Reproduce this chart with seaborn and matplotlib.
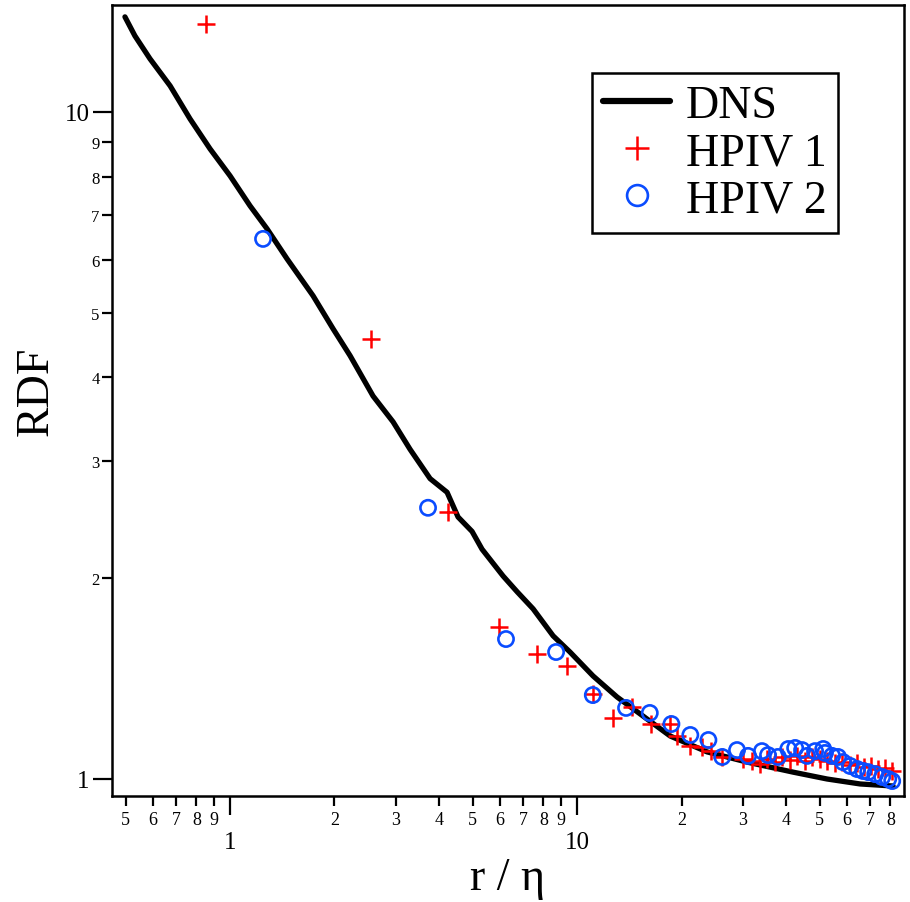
import numpy as np
import pandas as pd
import matplotlib
matplotlib.use("Agg")
import matplotlib.pyplot as plt
from matplotlib.ticker import LogLocator, FuncFormatter
from matplotlib.lines import Line2D
import seaborn as sns

# ---------------- data ----------------
dns_r = [0.498, 0.532, 0.588, 0.672, 0.767, 0.876, 1.0, 1.142, 1.278, 1.46, 1.735,
         1.981, 2.218, 2.583, 2.95, 3.302, 3.771, 4.221, 4.54, 4.982, 5.324, 6.12,
         6.72, 7.47, 8.53, 9.54, 11.12, 13.04, 15.19, 18.54, 23.7, 30.9, 41.9,
         52.5, 65.4, 81.4]
dns_g = [13.88, 13.0, 12.01, 10.94, 9.76, 8.8, 8.02, 7.23, 6.68, 6.02, 5.3,
         4.73, 4.31, 3.75, 3.43, 3.12, 2.82, 2.69, 2.47, 2.35, 2.21, 2.015,
         1.908, 1.799, 1.639, 1.55, 1.427, 1.327, 1.252, 1.16, 1.098, 1.06, 1.024,
         1.0, 0.983, 0.976]

hpiv1_r = [0.853, 2.55, 4.25, 5.96, 7.67, 9.36, 11.1, 12.7, 14.4, 16.3, 18.5, 19.4,
           21.2, 22.9, 24.3, 26.2, 30.1, 31.95, 33.7, 35.3, 37.2, 39.0, 41.1, 43.1,
           45.4, 47.6, 50.2, 52.5, 55.4, 58.0, 61.2, 64.1, 67.2, 70.4, 73.7, 77.2, 80.9]
hpiv1_g = [13.55, 4.57, 2.51, 1.69, 1.54, 1.477, 1.341, 1.234, 1.282, 1.209, 1.209, 1.16,
           1.121, 1.117, 1.101, 1.079, 1.072, 1.064, 1.053, 1.071, 1.06, 1.079, 1.068, 1.083,
           1.064, 1.079, 1.071, 1.064, 1.057, 1.06, 1.05, 1.057, 1.042, 1.046, 1.035, 1.039, 1.028]

hpiv2_r = [1.245, 3.72, 6.24, 8.7, 11.1, 13.84, 16.2, 18.7, 21.2, 23.9, 26.2, 28.9,
           31.1, 34.1, 35.5, 37.9, 40.6, 42.5, 44.5, 46.0, 48.5, 51.2, 51.8, 54.3,
           56.5, 58.4, 61.2, 64.1, 66.7, 69.0, 72.3, 75.7, 78.8, 80.9]
hpiv2_g = [6.45, 2.55, 1.621, 1.55, 1.336, 1.278, 1.256, 1.209, 1.164, 1.144, 1.079, 1.105,
           1.083, 1.101, 1.086, 1.079, 1.109, 1.113, 1.105, 1.083, 1.101, 1.109, 1.094, 1.083,
           1.079, 1.06, 1.046, 1.035, 1.028, 1.024, 1.017, 1.007, 1.0, 0.993]

series_labels = ["DNS", "HPIV 1", "HPIV 2"]
x_label = "r / η"
y_label = "RDF"

# ---------------- style ----------------
sns.set_style("ticks")
plt.rcParams['font.family'] = ['Liberation Serif', 'DejaVu Serif']
for key in ("text.color", "axes.labelcolor", "xtick.color", "ytick.color",
            "axes.edgecolor"):
    plt.rcParams[key] = "black"

RED = "#ff0000"
BLUE = "#0a4cff"

fig = plt.figure(figsize=(9.10, 9.03), dpi=100)
ax = fig.add_axes([112/910, 1-797/903, (904-112)/910, (797-6)/903])

dns = pd.DataFrame({"r": dns_r, "g": dns_g})
h1 = pd.DataFrame({"r": hpiv1_r, "g": hpiv1_g})
h2 = pd.DataFrame({"r": hpiv2_r, "g": hpiv2_g})

ax.set_xscale("log")
ax.set_yscale("log")

sns.lineplot(data=dns, x="r", y="g", ax=ax, color="black", linewidth=3.8,
             sort=False, estimator=None, zorder=2, legend=False)
sns.scatterplot(data=h1, x="r", y="g", ax=ax, marker="+", s=170, color=RED,
                linewidth=1.8, zorder=3, legend=False)
sns.scatterplot(data=h2, x="r", y="g", ax=ax, marker="o", s=120, facecolors="none",
                edgecolor=BLUE, linewidth=1.9, zorder=4, legend=False)

ax.set_xlim(0.457, 87.5)
ax.set_ylim(0.943, 14.46)

# ticks
def first_digit(v, pos):
    e = np.floor(np.log10(v) + 1e-9)
    return f"{int(round(v / 10**e))}"

def major_fmt(v, pos):
    return f"{v:g}"

for axis in (ax.xaxis, ax.yaxis):
    axis.set_major_locator(LogLocator(base=10, numticks=10))
    axis.set_minor_locator(LogLocator(base=10, subs=np.arange(2, 10), numticks=20))
    axis.set_major_formatter(FuncFormatter(major_fmt))
    axis.set_minor_formatter(FuncFormatter(first_digit))

ax.tick_params(axis="x", which="major", direction="out", length=14, width=1.6,
               pad=11, labelsize=18, colors="black")
ax.tick_params(axis="x", which="minor", direction="out", length=7, width=1.6,
               pad=4, labelsize=13, colors="black")
ax.tick_params(axis="y", which="major", direction="out", length=14, width=1.6,
               pad=2, labelsize=18, colors="black")
ax.tick_params(axis="y", which="minor", direction="out", length=7, width=1.6,
               pad=2, labelsize=12, colors="black")

for sp in ax.spines.values():
    sp.set_visible(True)
    sp.set_color("black")
    sp.set_linewidth(1.8)

ax.set_xlabel(x_label, fontsize=33, labelpad=3, color="black")
ax.set_ylabel(y_label, fontsize=33, color="black")
ax.yaxis.set_label_coords(-0.069, 0.513)

handles = [
    Line2D([], [], color="black", linewidth=4.5),
    Line2D([], [], color=RED, marker="+", linestyle="none", markersize=17, markeredgewidth=1.8),
    Line2D([], [], color=BLUE, marker="o", linestyle="none", markersize=15,
           markerfacecolor="none", markeredgewidth=1.9),
]
leg = ax.legend(handles, series_labels, loc="upper right",
                bbox_to_anchor=(0.9167, 0.914), borderaxespad=0,
                fontsize=33, frameon=True, fancybox=False, framealpha=1,
                edgecolor="black", labelspacing=0.1, handlelength=1.45,
                handletextpad=0.35, borderpad=0.25)
leg.get_frame().set_linewidth(1.8)
for t in leg.get_texts():
    t.set_color("black")

fig.savefig("out.png", dpi=100)
